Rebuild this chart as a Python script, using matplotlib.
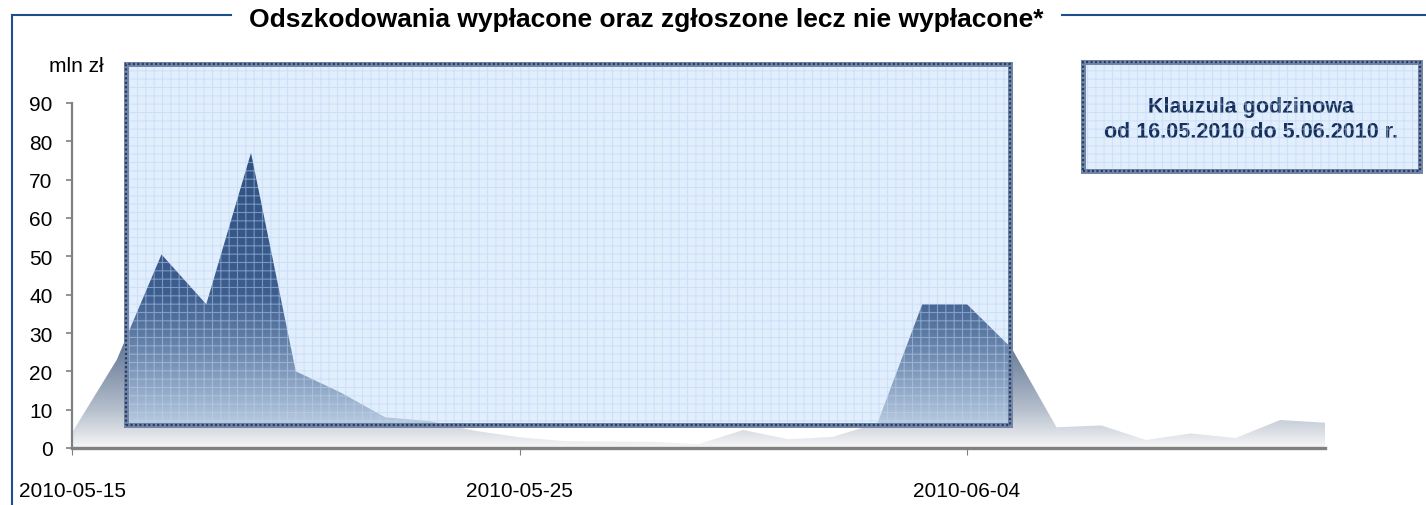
import numpy as np
import pandas as pd
import matplotlib
matplotlib.use('Agg')
import matplotlib.pyplot as plt
import matplotlib.dates as mdates
from matplotlib.patches import Rectangle
from matplotlib.colors import LinearSegmentedColormap
from matplotlib.lines import Line2D

# daily claims, mln zl
dates = pd.date_range('2010-05-15', '2010-06-12', freq='D')
values = [4, 23, 50.5, 37.5, 77, 20, 14.5, 8, 7, 4.5,
          2.8, 1.8, 1.7, 1.6, 1.0, 4.7, 2.3, 2.9, 6.5, 37.5,
          37.5, 26, 5.4, 5.9, 2.1, 3.8, 2.6, 7.3, 6.6]
x_ticks = ['2010-05-15', '2010-05-25', '2010-06-04']
y_ticks = [0, 10, 20, 30, 40, 50, 60, 70, 80, 90]
clause_start = '2010-05-16'
clause_end = '2010-06-05'

title = 'Odszkodowania wypłacone oraz zgłoszone lecz nie wypłacone*'
unit = 'mln zł'
note = 'Klauzula godzinowa\nod 16.05.2010 do 5.06.2010 r.'

plt.rcParams['font.family'] = ['Liberation Sans', 'DejaVu Sans']
plt.rcParams['hatch.linewidth'] = 0.8

W, H = 1426, 506
fig = plt.figure(figsize=(W / 100, H / 100), dpi=100)
ax = fig.add_axes([72 / W, 57 / H, (1325 - 72) / W, (449 - 104) / H])

x = mdates.date2num(dates)
ax.set_xlim(x[0], x[-1])
ax.set_ylim(0, 90)

# area with vertical gradient
poly = ax.fill_between(x, 0, values, facecolor='none', edgecolor='none')
cmap = LinearSegmentedColormap.from_list('g', [
    (0.0, '#f6f6f7'), (0.11, '#b5bfcc'), (0.28, '#6d7f9c'),
    (0.45, '#314b76'), (1.0, '#1b3461')])
grad = np.linspace(0, 1, 256).reshape(-1, 1)
im = ax.imshow(grad, cmap=cmap, extent=[x[0], x[-1], 0, 90], origin='lower',
               aspect='auto', zorder=1)
im.set_clip_path(poly.get_paths()[0], transform=ax.transData)

# clause period box
rx0 = mdates.date2num(pd.Timestamp(clause_start)) + 0.2
rx1 = mdates.date2num(pd.Timestamp(clause_end)) - 0.04
ry0, ry1 = 6.1, 100.2


def pattern_box(target, x0, y0, w, h, transform):
    kw = dict(transform=transform, clip_on=False)
    target.add_artist(Rectangle((x0, y0), w, h, facecolor='#6eaaf0', alpha=0.2,
                                edgecolor='none', zorder=3, **kw))
    target.add_artist(Rectangle((x0, y0), w, h, facecolor='none',
                                edgecolor=(0.72, 0.84, 0.97, 0.5), hatch='++', lw=0,
                                zorder=4, **kw))
    target.add_artist(Rectangle((x0, y0), w, h, facecolor='none',
                                edgecolor='#7586a5', lw=3.6, zorder=5, **kw))
    target.add_artist(Rectangle((x0, y0), w, h, facecolor='none',
                                edgecolor='#243f6e', lw=1.6, linestyle=(0, (1.0, 1.0)),
                                zorder=6, **kw))


pattern_box(ax, rx0, ry0, rx1 - rx0, ry1 - ry0, ax.transData)

# legend-like note box in figure coords
bx0, bx1, by0, by1 = 1083 / W, 1420 / W, 1 - 172 / H, 1 - 63 / H
pattern_box(fig, bx0, by0, bx1 - bx0, by1 - by0, fig.transFigure)
fig.text((bx0 + bx1) / 2, 1 - 120 / H, note, ha='center', va='center',
         fontsize=15.5, fontweight='bold', color='#172f5b', linespacing=1.2)

# axes styling
for s in ['top', 'right']:
    ax.spines[s].set_visible(False)
ax.spines['left'].set_color('#808080')
ax.spines['left'].set_linewidth(1.6)
ax.spines['bottom'].set_color('#808080')
ax.spines['bottom'].set_linewidth(2.4)
ax.spines['bottom'].set_zorder(7)

ax.set_yticks(y_ticks)
ax.set_xticks(mdates.date2num(pd.to_datetime(x_ticks)))
ax.set_xticklabels(x_ticks)
ax.tick_params(axis='y', length=4, width=1.2, color='#808080', pad=10,
               labelsize=15, labelcolor='black')
ax.tick_params(axis='x', length=5, width=0.8, color='#808080', pad=19,
               labelsize=15, labelcolor='black')

fig.text(76 / W, 1 - 67 / H, unit, ha='center', va='center', fontsize=15)

# outer frame and title
fc = '#1f4e8c'
fig.add_artist(Line2D([12 / W, 231 / W], [1 - 16 / H, 1 - 16 / H], color=fc, lw=1.5))
fig.add_artist(Line2D([1062 / W, 1.0], [1 - 16 / H, 1 - 16 / H], color=fc, lw=1.5))
fig.add_artist(Line2D([12 / W, 12 / W], [0, 1 - 16 / H], color=fc, lw=1.5))
fig.text(646 / W, 1 - 20 / H, title, ha='center', va='center', fontsize=19,
         fontweight='bold')

fig.savefig('out.png', dpi=100)
